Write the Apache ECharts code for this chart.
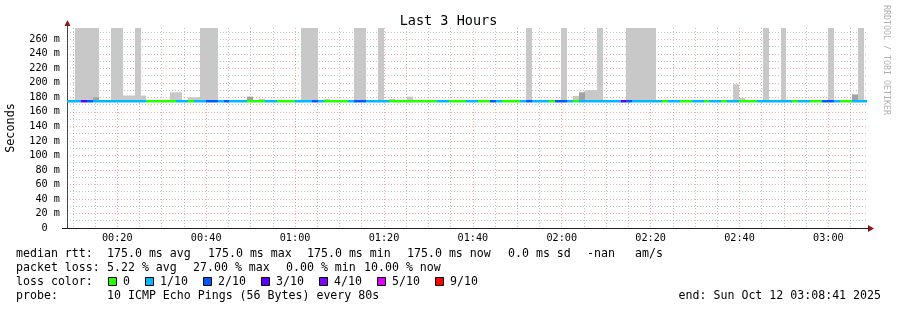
<!DOCTYPE html>
<html><head><meta charset="utf-8">
<script src="https://cdn.jsdelivr.net/npm/echarts@6/dist/echarts.min.js"></script>
<style>html,body{margin:0;padding:0;background:#fff}#c{width:897px;height:310px}</style>
</head><body><div id="c"></div>
<script>
const FONT = 'DejaVu Sans Mono';
// x axis: minutes since midnight
const startMin = 8 + 41/60;      // 00:08:41
const endMin = 188 + 41/60;      // 03:08:41
const sampleStart = 7 + 54/60;   // first 80 s RRD step
const sampleStep = 80/60;
const xMajor = [20,40,60,80,100,120,140,160,180];
const xMinor = [10,15,25,30,35,45,50,55,65,70,75,85,90,95,105,110,115,125,130,135,145,150,155,165,170,175,185];
const yMajor = [0,20,40,60,80,100,120,140,160,180,200,220,240,260];
const yMinor = [10,30,50,70,90,110,130,150,170,190,210,230,250,270];
const yMax = 275.5;

// median rtt (ms) per 80 s step
const median = [
175,175,175,175,175,175,175,175,175,175, 175,175,175,175,175,175,175,175,175,175,
175,175,175,175,175,175,175,175,175,175, 175,175,175,175,175,175,175,175,175,175,
175,175,175,175,175,175,175,175,175,175, 175,175,175,175,175,175,175,175,175,175,
175,175,175,175,175,175,175,175,175,175, 175,175,175,175,175,175,175,175,175,175,
175,175,175,175,175,175,175,175,175,175, 175,175,175,175,175,175,175,175,175,175,
175,175,175,175,175,175,175,175,175,175, 175,175,175,175,175,175,175,175,175,175,
175,175,175,175,175,175,175,175,175,175, 175,175,175,175,175,175];
// lost pings out of 10 per step
const loss = [
1,1,1,3,2,1,1,1,1,1, 1,1,1,1,0,0,0,0,0,1,
1,0,1,1,2,2,1,2,1,1, 1,0,0,0,1,1,0,0,0,1,
1,1,2,1,0,0,0,0,1,2, 2,1,1,1,1,0,0,0,0,0,
0,0,0,1,1,0,0,0,1,1, 0,0,2,1,0,0,0,1,2,1,
1,1,0,2,2,1,0,1,1,1, 1,1,1,1,3,2,1,1,1,1,
1,0,1,1,0,0,1,1,0,1, 1,0,1,1,0,0,0,1,1,1,
1,1,1,0,1,1,0,0,2,2, 1,0,0,1,1,1];
// smoke: step index, top value (ms), shade (0 light, 1 dark)
const smokeSample = [2,3,4,5,5,8,9,10,11,12,13,18,19,21,22,23,24,25,31,33,40,41,42,44,49,50,53,55,58,78,84,86,87,88,89,90,95,96,97,98,99,113,114,118,121,129,133,134];
const smokeTop    = [400,400,400,400,180,400,400,182.5,182.5,400,182.5,187,187,180,180,400,400,400,181,178,400,400,400,178,400,400,400,178,181,400,400,182,187,190,190,400,400,400,400,400,400,198,179,400,400,400,184,400];
const smokeShade  = [0,0,0,0,1,0,0,0,0,0,0,0,0,0,0,0,0,0,1,0,0,0,0,0,0,0,0,0,0,0,0,0,1,0,0,0,0,0,0,0,0,0,0,0,0,0,1,0];
const smokeColors = ['#c8c8c8','#a2a2a2'];

const lossLabels = ['0','1/10','2/10','3/10','4/10','5/10','9/10'];
const lossColors = ['#26ff00','#00b8ff','#0059ff','#5e00ff','#7e00ff','#dd00ff','#ff0000'];
const lossLevelOf = {0:0,1:1,2:2,3:3,4:4,5:5,9:6};

const rttStats = ['175.0 ms avg','175.0 ms max','175.0 ms min','175.0 ms now','0.0 ms sd','-nan','am/s'];
const lossStats = ['5.22 % avg','27.00 % max','0.00 % min','10.00 % now'];
const probeText = '10 ICMP Echo Pings (56 Bytes) every 80s';
const endText = 'end: Sun Oct 12 03:08:41 2025';

const medianData = median.map((v,j)=>[sampleStart+j*sampleStep, sampleStart+(j+1)*sampleStep, v, loss[j]]);
const smokeData = smokeSample.map((j,i)=>[sampleStart+j*sampleStep, sampleStart+(j+1)*sampleStep, median[j], smokeTop[i], smokeShade[i]]);

function clip(r, cs){
  return echarts.graphic.clipRectByRect(r, {x:cs.x, y:cs.y, width:cs.width, height:cs.height});
}
function smokeItem(params, api){
  const a = api.coord([api.value(0), api.value(2)]);
  const b = api.coord([api.value(1), api.value(3)]);
  const x0 = Math.round(a[0]), x1 = Math.round(b[0]);
  const r = clip({x:x0, y:b[1], width:x1-x0, height:a[1]-b[1]}, params.coordSys);
  return r ? {type:'rect', shape:r, style:{fill: smokeColors[api.value(4)]}} : null;
}
function medianItem(params, api){
  const a = api.coord([api.value(0), api.value(2)]);
  const b = api.coord([api.value(1), api.value(2)]);
  const x0 = Math.round(a[0]), x1 = Math.round(b[0]);
  const y = Math.round(a[1]) - 1;
  const r = clip({x:x0, y:y, width:x1-x0, height:2.5}, params.coordSys);
  return r ? {type:'rect', shape:r, style:{fill: lossColors[lossLevelOf[api.value(3)]]}} : null;
}
const hhmm = v => { const h=Math.floor(v/60), m=Math.round(v-h*60); return String(h).padStart(2,'0')+':'+String(m).padStart(2,'0'); };

const majorLine = {color:'rgba(255,0,0,0.35)', width:1, type:[1,2]};
const minorLine = {color:'rgba(120,120,120,0.45)', width:1, type:[1,2]};
const legendFont = {fontFamily:FONT, fontSize:11.6, fill:'#000'};

const graphics = [];
function txt(s, x, y, align){
  graphics.push({type:'text', x:x, y:y, style:Object.assign({text:s, textAlign:align||'left', textVerticalAlign:'middle'}, legendFont), silent:true});
}
txt('median rtt:', 16, 254);
[107,208,307,407,508,587,635].forEach((x,i)=>txt(rttStats[i], x, 254));
txt('packet loss:', 16, 268);
[107,193,286,364].forEach((x,i)=>txt(lossStats[i], x, 268));
txt('loss color:', 16, 282);
[108.5,145.5,203.5,261.5,319.5,377.5,435.5].forEach((x,i)=>{
  graphics.push({type:'rect', shape:{x:x, y:277.5, width:8, height:8}, style:{fill:lossColors[i], stroke:'#000', lineWidth:1}, silent:true});
  txt(lossLabels[i], x+14.5, 282);
});
txt('probe:', 16, 296);
txt(probeText, 107, 296);
txt(endText, 881, 296, 'right');
// watermark
graphics.push({type:'text', x:886, y:60, rotation:-Math.PI/2, style:{text:'RRDTOOL / TOBI OETIKER', fontFamily:FONT, fontSize:8.3, fill:'#b0b0b0', textAlign:'center', textVerticalAlign:'middle'}, silent:true});
// axis arrows / extensions
graphics.push({type:'line', shape:{x1:67.5, y1:24, x2:67.5, y2:28}, style:{stroke:'#444', lineWidth:1}, silent:true});
graphics.push({type:'line', shape:{x1:62, y1:228.5, x2:67, y2:228.5}, style:{stroke:'#222', lineWidth:1}, silent:true});
graphics.push({type:'line', shape:{x1:867, y1:228.5, x2:869, y2:228.5}, style:{stroke:'#222', lineWidth:1}, silent:true});
graphics.push({type:'polygon', shape:{points:[[64.5,26],[70.5,26],[67.5,20]]}, style:{fill:'#8b1a1a'}, silent:true});
graphics.push({type:'polygon', shape:{points:[[868,225],[868,232],[874,228.5]]}, style:{fill:'#8b1a1a'}, silent:true});

const chart = echarts.init(document.getElementById('c'), null, {renderer:'canvas'});
chart.setOption({
  animation:false,
  backgroundColor:'#fff',
  title:{text:'Last 3 Hours', left:'center', top:9, textStyle:{fontFamily:FONT, fontSize:13.5, fontWeight:'normal', color:'#000'}},
  grid:{left:67, top:28, width:800, height:200, containLabel:false, outerBoundsMode:'none'},
  xAxis:[
    {type:'value', min:startMin, max:endMin, position:'bottom',
     axisLine:{show:true, lineStyle:{color:'#222', width:1}},
     axisTick:{show:false, customValues:xMajor},
     axisLabel:{customValues:xMajor, formatter:hhmm, fontFamily:FONT, fontSize:10.2, color:'#000', margin:5},
     splitLine:{show:true, lineStyle:majorLine}},
    {type:'value', min:startMin, max:endMin, position:'top',
     axisLine:{show:false}, axisTick:{show:false, customValues:xMinor},
     axisLabel:{show:false, customValues:xMinor},
     splitLine:{show:true, lineStyle:minorLine}}
  ],
  yAxis:[
    {type:'value', min:0, max:yMax, name:'Seconds', nameLocation:'middle', nameGap:50, nameRotate:90,
     nameTextStyle:{fontFamily:FONT, fontSize:11.8, color:'#000'},
     axisLine:{show:true, lineStyle:{color:'#444', width:1}},
     axisTick:{show:false, customValues:yMajor},
     axisLabel:{customValues:yMajor, formatter:v=> v===0 ? '0  ' : v+' m', fontFamily:FONT, fontSize:10.2, color:'#000', margin:7},
     splitLine:{show:true, lineStyle:majorLine}},
    {type:'value', min:0, max:yMax, position:'right',
     axisLine:{show:false}, axisTick:{show:false, customValues:yMinor},
     axisLabel:{show:false, customValues:yMinor},
     splitLine:{show:true, lineStyle:minorLine}}
  ],
  series:[
    {type:'custom', name:'smoke', xAxisIndex:0, yAxisIndex:0, renderItem:smokeItem, data:smokeData, encode:{x:[0,1], y:[2,3]}, silent:true, z:2},
    {type:'custom', name:'median', xAxisIndex:0, yAxisIndex:0, renderItem:medianItem, data:medianData, encode:{x:[0,1], y:2}, silent:true, z:3}
  ],
  graphic:graphics
});
</script></body></html>
